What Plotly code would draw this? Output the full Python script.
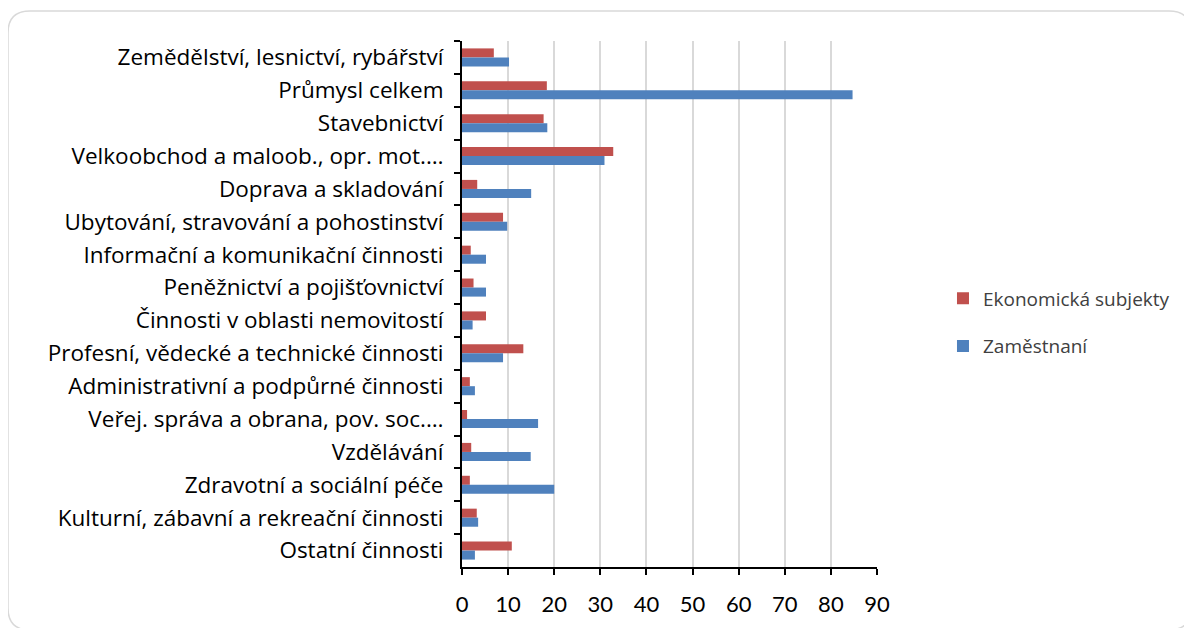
import re
import plotly.graph_objects as go

categories = [
    "Zemědělství, lesnictví, rybářství",
    "Průmysl celkem",
    "Stavebnictví",
    "Velkoobchod a maloob., opr. mot.…",
    "Doprava a skladování",
    "Ubytování, stravování a pohostinství",
    "Informační a komunikační činnosti",
    "Peněžnictví a pojišťovnictví",
    "Činnosti v oblasti nemovitostí",
    "Profesní, vědecké a technické činnosti",
    "Administrativní a podpůrné činnosti",
    "Veřej. správa a obrana, pov. soc.…",
    "Vzdělávání",
    "Zdravotní a sociální péče",
    "Kulturní, zábavní a rekreační činnosti",
    "Ostatní činnosti",
]
ekonomicka_subjekty = [6.9, 18.4, 17.7, 32.8, 3.3, 8.9, 1.9, 2.5, 5.2, 13.3, 1.7, 1.1, 2.0, 1.7, 3.2, 10.8]
zamestnani = [10.2, 84.7, 18.5, 30.9, 15.0, 9.8, 5.2, 5.2, 2.3, 8.9, 2.8, 16.5, 14.9, 20.0, 3.5, 2.8]
x_ticks = [0, 10, 20, 30, 40, 50, 60, 70, 80, 90]

W, H = 1192, 628
pl, pr, pt, pb = 454, 323, 33, 69

fig = go.Figure()
fig.add_trace(go.Bar(
    y=categories, x=ekonomicka_subjekty, orientation="h",
    name="Ekonomická subjekty", marker=dict(color="#C0504D", line=dict(width=0)),
    legendgroup="a",
))
fig.add_trace(go.Bar(
    y=categories, x=zamestnani, orientation="h",
    name="Zaměstnaní", marker=dict(color="#4F81BD", line=dict(width=0)),
    legendgroup="b",
))

fig.update_layout(
    width=W, height=H,
    paper_bgcolor="white", plot_bgcolor="white",
    barmode="group", bargap=0.45, bargroupgap=0,
    margin=dict(l=pl, r=pr, t=pt, b=pb),
    font=dict(family="Lato, Open Sans, sans-serif", size=21, color="#000000"),
    showlegend=True,
    legend=dict(
        x=1.159, y=0.465, xanchor="left", yanchor="middle",
        font=dict(family="Open Sans, sans-serif", size=19, color="#404040"),
        tracegroupgap=20, itemwidth=30,
        traceorder="grouped",
    ),
    xaxis=dict(
        range=[0, 90], tickvals=x_ticks, ticktext=[str(v) for v in x_ticks],
        showgrid=True, gridcolor="#D9D9D9", gridwidth=2,
        showline=True, linecolor="#000000", linewidth=2,
        ticks="outside", ticklen=6, tickcolor="#000000", tickwidth=2,
        tickfont=dict(size=22), zeroline=False, fixedrange=True,
        ticklabelstandoff=11,
    ),
    yaxis=dict(
        autorange="reversed",
        showline=True, linecolor="#000000", linewidth=2,
        ticks="outside", ticklen=6, tickcolor="#000000", tickwidth=2,
        tickson="boundaries", showgrid=False,
        tickfont=dict(family="Open Sans, sans-serif", size=22.5), ticklabelstandoff=12,
    ),
)

# rounded frame (pixel coords of the page, converted to paper coords)
r = 22
x0, y0, x1, y1 = 0, 3, 1183, 622
path = (f"M {x0+r},{y0} L {x1-r},{y0} Q {x1},{y0} {x1},{y0+r} "
        f"L {x1},{y1-r} Q {x1},{y1} {x1-r},{y1} L {x0+r},{y1} Q {x0},{y1} {x0},{y1-r} "
        f"L {x0},{y0+r} Q {x0},{y0} {x0+r},{y0} Z")
pw, ph = W - pl - pr, H - pt - pb
def conv(p):
    def rep(m):
        a, b = float(m.group(1)), float(m.group(2))
        return f"{(a - pl) / pw:.5f},{1 - (b - pt) / ph:.5f}"
    return re.sub(r"(-?\d+(?:\.\d+)?),(-?\d+(?:\.\d+)?)", rep, p)
fig.add_shape(type="path", path=conv(path), xref="paper", yref="paper",
              line=dict(color="#D9D9D9", width=1.5), layer="below")

fig.write_html("out.html")
